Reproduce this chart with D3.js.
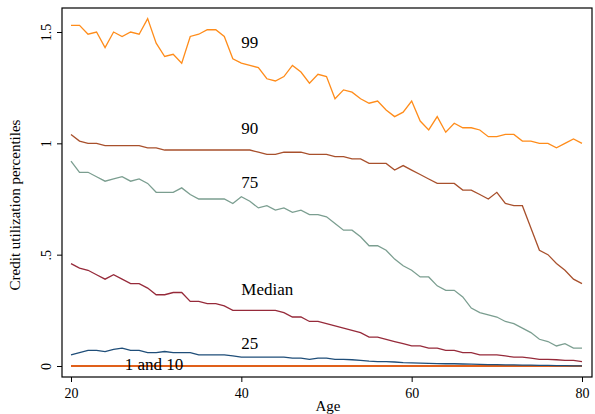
<!DOCTYPE html>
<html><head><meta charset="utf-8">
<script src="https://cdn.jsdelivr.net/npm/d3@7"></script>
<style>body{margin:0;background:#fff}text{font-family:"Liberation Serif","Times New Roman",serif}</style>
</head><body><svg id="c" width="595" height="414"></svg>
<script>
// ages 20..80
var ages = d3.range(20, 81);
var p99 = [1.53,1.53,1.49,1.50,1.43,1.50,1.48,1.50,1.49,1.56,1.45,1.39,1.40,1.36,1.48,1.49,1.51,1.51,1.48,1.38,1.36,1.35,1.34,1.29,1.28,1.30,1.35,1.32,1.27,1.31,1.30,1.20,1.24,1.23,1.20,1.18,1.19,1.15,1.12,1.14,1.19,1.10,1.06,1.12,1.05,1.09,1.07,1.07,1.06,1.03,1.03,1.04,1.04,1.01,1.01,1.00,1.00,0.98,1.00,1.02,1.00];
var p90 = [1.04,1.01,1.00,1.00,0.99,0.99,0.99,0.99,0.99,0.98,0.98,0.97,0.97,0.97,0.97,0.97,0.97,0.97,0.97,0.97,0.97,0.97,0.96,0.95,0.95,0.96,0.96,0.96,0.95,0.95,0.95,0.94,0.94,0.93,0.93,0.91,0.91,0.91,0.88,0.90,0.88,0.86,0.84,0.82,0.82,0.82,0.79,0.79,0.77,0.75,0.78,0.73,0.72,0.72,0.62,0.52,0.50,0.46,0.43,0.39,0.37];
var p75 = [0.92,0.87,0.87,0.85,0.83,0.84,0.85,0.83,0.84,0.82,0.78,0.78,0.78,0.80,0.77,0.75,0.75,0.75,0.75,0.73,0.76,0.74,0.71,0.72,0.70,0.71,0.69,0.70,0.68,0.68,0.67,0.64,0.61,0.61,0.58,0.54,0.54,0.52,0.48,0.45,0.43,0.40,0.40,0.36,0.34,0.34,0.31,0.26,0.24,0.23,0.22,0.20,0.19,0.17,0.15,0.12,0.11,0.09,0.10,0.08,0.08];
var p50 = [0.46,0.44,0.43,0.41,0.39,0.41,0.39,0.37,0.37,0.35,0.32,0.32,0.33,0.33,0.29,0.29,0.28,0.28,0.27,0.25,0.25,0.25,0.25,0.25,0.25,0.24,0.22,0.22,0.20,0.20,0.19,0.18,0.17,0.16,0.15,0.13,0.13,0.12,0.11,0.10,0.09,0.09,0.08,0.08,0.07,0.07,0.06,0.06,0.05,0.05,0.05,0.045,0.04,0.04,0.035,0.03,0.03,0.028,0.025,0.025,0.02];
var p25 = [0.05,0.06,0.07,0.07,0.065,0.075,0.08,0.07,0.07,0.06,0.06,0.065,0.06,0.06,0.06,0.05,0.05,0.05,0.05,0.045,0.04,0.04,0.04,0.04,0.04,0.04,0.035,0.035,0.03,0.035,0.035,0.03,0.03,0.028,0.025,0.022,0.02,0.02,0.018,0.015,0.014,0.013,0.012,0.011,0.01,0.01,0.009,0.008,0.007,0.006,0.006,0.005,0.005,0.004,0.004,0.003,0.003,0.002,0.002,0.001,0.001];
var p10 = ages.map(function(){ return 0; });
var p1 = ages.map(function(){ return 0; });
var xTicks = [20, 40, 60, 80];
var yTicks = [0, 0.5, 1, 1.5];
var yTickLabels = ["0", ".5", "1", "1.5"];

var series = [
  {v: p1, c: "#8b2b1e", w: 1.5},
  {v: p10, c: "#e0601a", w: 2},
  {v: p25, c: "#1f4e79", w: 1.3},
  {v: p50, c: "#962a3a", w: 1.3},
  {v: p75, c: "#7b9e90", w: 1.3},
  {v: p90, c: "#a8502c", w: 1.3},
  {v: p99, c: "#ff8c1a", w: 1.3}
];
var labels = [
  {t: "99", a: 40, y: 1.43},
  {t: "90", a: 40, y: 1.04},
  {t: "75", a: 40, y: 0.80},
  {t: "Median", a: 40, y: 0.32},
  {t: "25", a: 40, y: 0.075},
  {t: "1 and 10", a: 26.3, y: -0.02}
];

var svg = d3.select("#c");
var x = d3.scaleLinear().domain([20, 80]).range([71, 582]);
var y = d3.scaleLinear().domain([0, 1.5]).range([366, 32]);

svg.append("rect").attr("x", 62).attr("y", 8).attr("width", 530).attr("height", 369)
  .attr("fill", "none").attr("stroke", "#000").attr("stroke-width", 1.2);

var line = d3.line().x(function(d, i){ return x(ages[i]); }).y(function(d){ return y(d); });
series.forEach(function(s){
  svg.append("path").attr("d", line(s.v)).attr("fill", "none")
    .attr("stroke", s.c).attr("stroke-width", s.w);
});

labels.forEach(function(l){
  svg.append("text").attr("x", x(l.a)).attr("y", y(l.y)).attr("font-size", 17).text(l.t);
});

var xa = svg.append("g").attr("transform", "translate(0,377)")
  .call(d3.axisBottom(x).tickValues(xTicks).tickSize(5).tickFormat(d3.format("d")));
xa.select(".domain").remove();
xa.selectAll("text").attr("font-size", 14).attr("fill", "#000").attr("dy", "0.9em");

var ya = svg.append("g").attr("transform", "translate(62,0)")
  .call(d3.axisLeft(y).tickValues(yTicks).tickSize(5).tickFormat(function(d, i){ return yTickLabels[i]; }));
ya.select(".domain").remove();
ya.selectAll(".tick text").attr("font-size", 14).attr("fill", "#000")
  .attr("text-anchor", "middle").attr("x", 0).attr("y", -15).attr("dy", "0.3em")
  .attr("transform", "rotate(-90)");

svg.append("text").attr("x", 328).attr("y", 411).attr("text-anchor", "middle")
  .attr("font-size", 15).text("Age");
svg.append("text").attr("transform", "translate(20,205) rotate(-90)").attr("text-anchor", "middle")
  .attr("font-size", 15).text("Credit utilization percentiles");
</script></body></html>
